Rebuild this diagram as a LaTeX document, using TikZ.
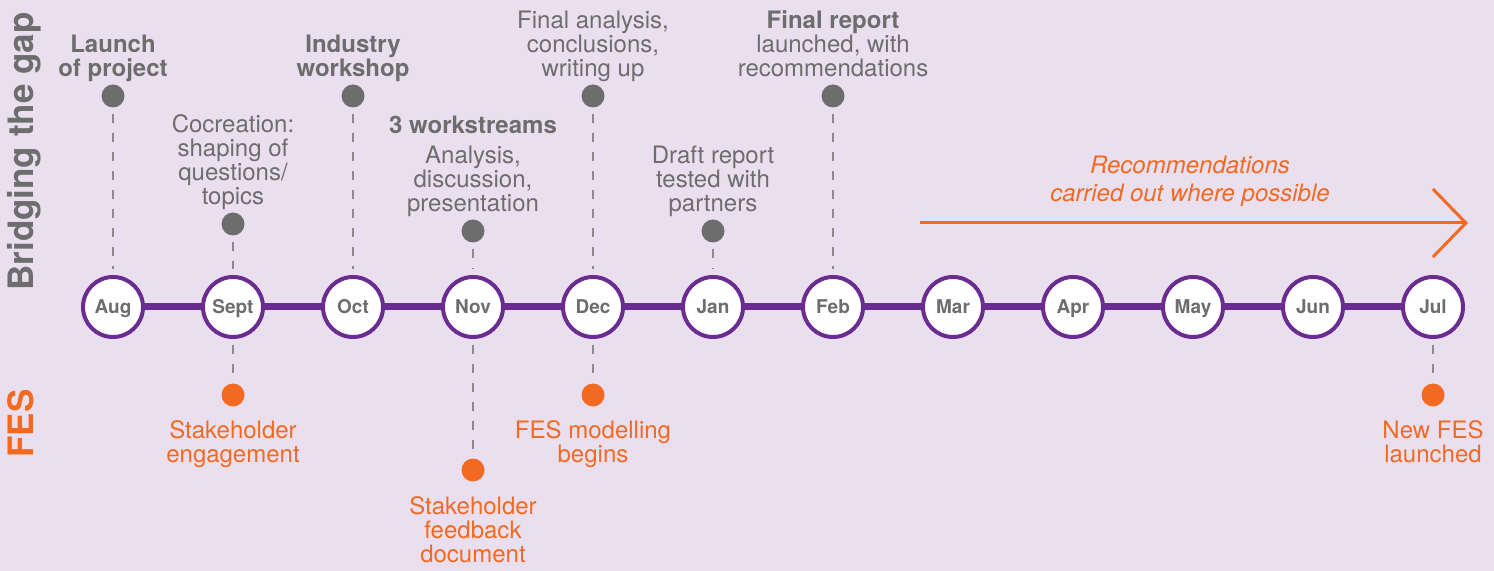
\documentclass[tikz,border=0pt]{standalone}
\usepackage{fontspec}
\setmainfont{TeX Gyre Heros}
\usetikzlibrary{arrows.meta}
\definecolor{bgLilac}{HTML}{EADFEF}
\definecolor{tlPurple}{HTML}{6A2C91}
\definecolor{fesOrange}{HTML}{F26A22}
\definecolor{txtGray}{HTML}{6D6D6D}
\definecolor{dashGray}{HTML}{8A8A8A}

\begin{document}
\begin{tikzpicture}[x=0.5pt,y=0.5pt,yscale=-1,xscale=1,
  month/.style={circle,draw=tlPurple,line width=2pt,fill=white,minimum size=30pt,inner sep=0pt,
    text height=6.85pt,text depth=0pt,text=txtGray,font=\fontsize{9.5}{9.5}\selectfont\bfseries},
  gdot/.style={circle,fill=txtGray,minimum size=11.5pt,inner sep=0pt},
  odot/.style={gdot,fill=fesOrange},
  timeline/.style={tlPurple,line width=3.5pt},
  leader/.style={dashGray,line width=0.75pt,dash pattern={on 4.5pt off 5pt},shorten <=3pt,shorten >=3pt},
  note/.style={text=txtGray,align=center,inner sep=0pt,anchor=base,font=\fontsize{12}{12}\selectfont},
  notebold/.style={note,font=\fontsize{12}{12}\selectfont\bfseries},
  fesnote/.style={note,text=fesOrange},
  sidetitle/.style={rotate=90,anchor=base west,inner sep=0pt,text=txtGray,font=\fontsize{17.5}{17.5}\selectfont\bfseries}]

%background
\useasboundingbox (0,0) rectangle (1494,571);
\clip (0,0) rectangle (1494,571);
\fill [bgLilac] (0,0) rectangle (1494,571);

%Months
\foreach \m [count=\i from 0] in {Aug,Sept,Oct,Nov,Dec,Jan,Feb,Mar,Apr,May,Jun,Jul}
  \node [month] (m\i) at (113+120*\i,307) {\m};
\foreach \i [evaluate=\i as \j using int(\i+1)] in {0,...,10}
  \draw [timeline] (m\i) -- (m\j);

%Side titles
\node [sidetitle] (bridge) at (33,291) {Bridging the gap};
\node [sidetitle,text=fesOrange] (fes) at (33,458) {FES};

%Upper dots
\node [gdot] (launch) at (113,96) {};
\node [gdot] (cocreate) at (233,224) {};
\node [gdot] (workshop) at (353,96) {};
\node [gdot] (streams) at (473,231) {};
\node [gdot] (finalan) at (593,96) {};
\node [gdot] (draft) at (713,231) {};
\node [gdot] (report) at (833,96) {};
\draw [leader] (launch) -- (m0);
\draw [leader] (cocreate) -- (m1);
\draw [leader] (workshop) -- (m2);
\draw [leader] (streams) -- (m3);
\draw [leader] (finalan) -- (m4);
\draw [leader] (draft) -- (m5);
\draw [leader] (report) -- (m6);

%Lower dots
\node [odot] (engage) at (233,395) {};
\node [odot] (feedback) at (473,470) {};
\node [odot] (modelling) at (593,395) {};
\node [odot] (newfes) at (1433,395) {};
\draw [leader] (m1) -- (engage);
\draw [leader] (m3) -- (feedback);
\draw [leader] (m4) -- (modelling);
\draw [leader] (m11) -- (newfes);

%Arrow
\coordinate (recS) at (920,223);
\coordinate (recE) at (1468,223);
\draw [fesOrange,line width=1.5pt,-{Straight Barb[length=16.5pt,width=34pt]}] (recS) -- (recE);

% Text Node (anchored at the base of the last line)
\node [notebold] at (113,77) {Launch\\of project};
% Text Node
\node [note] at (233,205) {Cocreation:\\shaping of\\questions/\\topics};
% Text Node
\node [notebold] at (353,77) {Industry\\workshop};
% Text Node
\node [notebold] at (473,134) {3 workstreams};
\node [note] at (473,212) {Analysis,\\discussion,\\presentation};
% Text Node
\node [note] at (593,77) {Final analysis,\\conclusions,\\writing up};
% Text Node
\node [note] at (713,212) {Draft report\\tested with\\partners};
% Text Node
\node [note] at (833,77) {{\bfseries Final report}\\launched, with\\recommendations};
% Text Node
\node [fesnote,font=\fontsize{12}{14.25}\selectfont\itshape] at (1190,202) {Recommendations\\carried out where possible};
% Text Node
\node [fesnote] at (233,463) {Stakeholder\\engagement};
\node [fesnote] at (473,562) {Stakeholder\\feedback\\document};
\node [fesnote] at (593,463) {FES modelling\\begins};
\node [fesnote] at (1433,463) {New FES\\launched};

\end{tikzpicture}
\end{document}
